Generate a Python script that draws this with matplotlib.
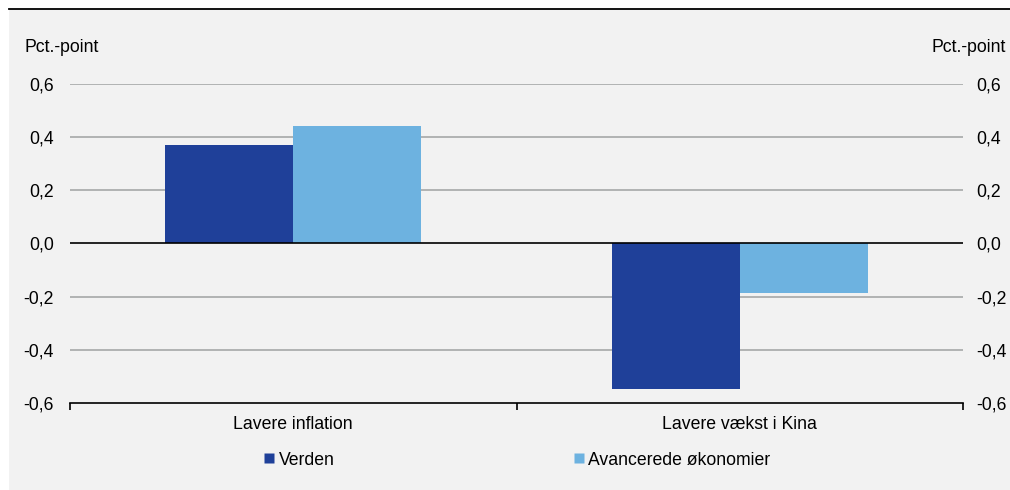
import matplotlib
matplotlib.use("Agg")
import matplotlib.pyplot as plt
from matplotlib.patches import Rectangle
from matplotlib.lines import Line2D
import numpy as np

plt.rcParams['font.family'] = ['Liberation Sans', 'DejaVu Sans']

categories = ["Lavere inflation", "Lavere vækst i Kina"]
series_names = ["Verden", "Avancerede økonomier"]
verden = [0.37, -0.547]
avancerede = [0.442, -0.187]
colors = ["#1f4099", "#6db2e0"]
yticks = [-0.6, -0.4, -0.2, 0.0, 0.2, 0.4, 0.6]
ylabels = ["-0,6", "-0,4", "-0,2", "0,0", "0,2", "0,4", "0,6"]

FS = 12.7

fig = plt.figure(figsize=(10.1, 4.9), dpi=100)
fig.patch.set_facecolor("white")
fig.patches.append(Rectangle((9/1010, 0), 1 - 9/1010, 1 - 9/490, transform=fig.transFigure,
                             facecolor="#f2f2f2", edgecolor="none", zorder=-10))
fig.lines.append(Line2D([9/1010, 1], [1 - 9.5/490, 1 - 9.5/490], transform=fig.transFigure,
                        color="black", lw=1.3))

ax = fig.add_axes([70/1010, 1 - 403/490, 893/1010, 319/490])
ax.set_facecolor("none")
x = np.arange(len(categories))
w = 0.287
ax.bar(x - w/2, verden, width=w, color=colors[0], zorder=3)
ax.bar(x + w/2, avancerede, width=w, color=colors[1], zorder=3)

ax.set_xlim(-0.5, 1.5)
ax.set_ylim(-0.6, 0.6)
ax.set_yticks(yticks)
ax.set_yticklabels(ylabels)
for y in yticks:
    if y not in (0.0, -0.6):
        ax.axhline(y, color="#a6a8a8", lw=1.2, zorder=1)
ax.axhline(0, color="black", lw=1.2, zorder=4)

for s in ["left", "right", "top"]:
    ax.spines[s].set_visible(False)
ax.spines["bottom"].set_color("black")
ax.spines["bottom"].set_linewidth(1.2)

ax.set_xticks(x)
ax.set_xticklabels(categories)
ax.set_xticks([-0.5, 0.5, 1.5], minor=True)
ax.tick_params(axis="x", which="major", length=0, pad=9.5, labelsize=FS)
ax.tick_params(axis="x", which="minor", length=5, width=1.2, direction="out", color="black")
ax.tick_params(axis="y", which="both", length=0, labelsize=FS, pad=11.5)

ax2 = ax.twinx()
ax2.set_ylim(ax.get_ylim())
ax2.set_yticks(yticks)
ax2.set_yticklabels(ylabels)
ax2.tick_params(axis="y", which="both", length=0, labelsize=FS, pad=9.5)
for s in ax2.spines.values():
    s.set_visible(False)

fig.text(24/1010, 1 - 47/490, "Pct.-point", fontsize=FS, ha="left", va="center")
fig.text(1006/1010, 1 - 47/490, "Pct.-point", fontsize=FS, ha="right", va="center")

handles = [Line2D([], [], marker="s", linestyle="none", markersize=7,
                  markerfacecolor=c, markeredgecolor="none") for c in colors]
fig.legend(handles, series_names, loc="center left", bbox_to_anchor=(260/1010, 1 - 460/490),
           ncol=2, frameon=False, fontsize=FS, handletextpad=0.05, columnspacing=13.35,
           handlelength=1.0, borderaxespad=0, borderpad=0)

fig.savefig("out.png", dpi=100, facecolor=fig.get_facecolor())
